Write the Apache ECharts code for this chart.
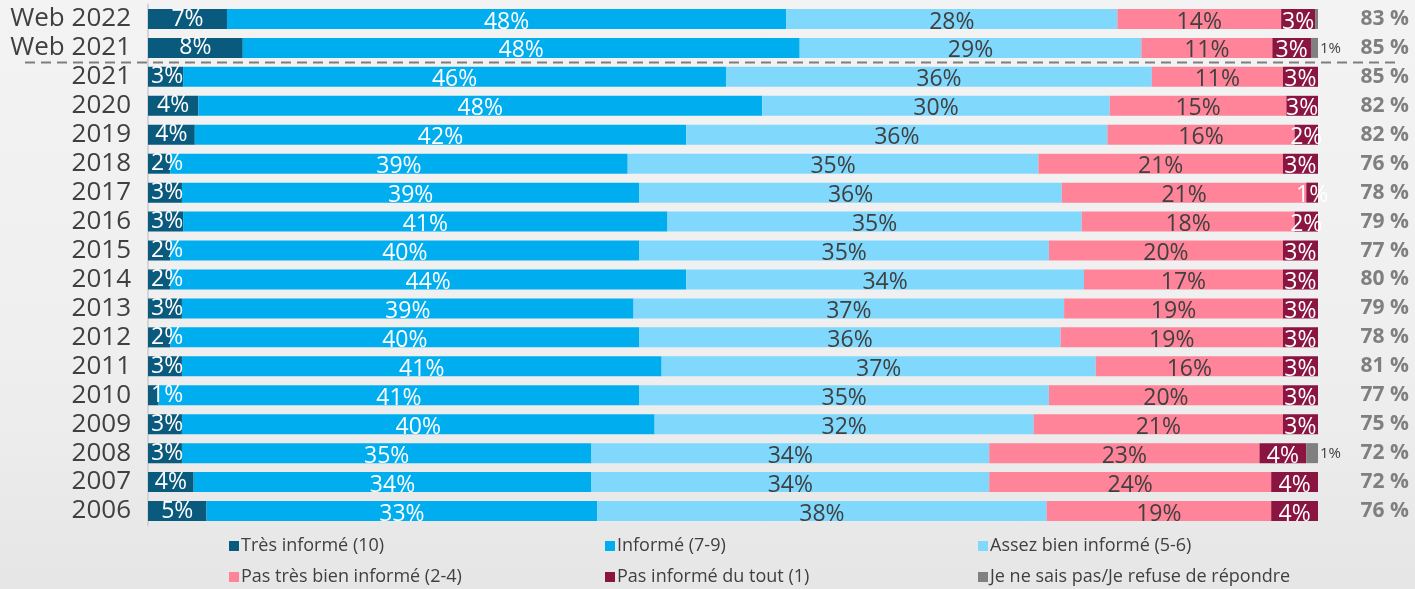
<!DOCTYPE html>
<html>
<head>
<meta charset="utf-8">
<script src="https://cdn.jsdelivr.net/npm/echarts@6/dist/echarts.min.js"></script>
<style>
html,body{margin:0;padding:0;}
#chart{width:1415px;height:589px;background:linear-gradient(180deg,#f3f3f3 0%,#efefef 60%,#e6e6e6 100%);}
</style>
</head>
<body>
<div id="chart"></div>
<script>
const categories = ['Web 2022','Web 2021','2021','2020','2019','2018','2017','2016','2015','2014','2013','2012','2011','2010','2009','2008','2007','2006'];
const tresInforme   = [6.75, 8.1, 3.0, 4.3, 4.0, 1.9, 2.9, 3.0, 1.9, 1.9, 2.9, 1.9, 2.9, 0.9, 2.9, 2.9, 3.9, 5.0];
const informe       = [47.8, 47.6, 46.4, 48.2, 42.0, 39.1, 39.1, 41.4, 40.1, 44.1, 38.6, 40.1, 41.0, 41.1, 40.4, 35.0, 34.0, 33.4];
const assezBien     = [28.3, 29.2, 36.4, 29.7, 36.0, 35.1, 36.1, 35.4, 35.0, 34.0, 36.8, 36.0, 37.1, 35.0, 32.4, 34.0, 34.0, 38.4];
const pasTresBien   = [14.0, 11.2, 11.2, 15.1, 16.0, 20.9, 20.9, 18.2, 20.0, 17.0, 18.7, 19.0, 16.0, 20.0, 21.3, 23.1, 24.1, 19.2];
const pasDuTout     = [2.9, 3.3, 3.0, 2.7, 2.0, 3.0, 1.0, 2.0, 3.0, 3.0, 3.0, 3.0, 3.0, 3.0, 3.0, 4.0, 4.0, 4.0];
const neSaisPas     = [0.25, 0.6, 0, 0, 0, 0, 0, 0, 0, 0, 0, 0, 0, 0, 0, 1.0, 0, 0];
const totals        = [83, 85, 85, 82, 82, 76, 78, 79, 77, 80, 79, 78, 81, 77, 75, 72, 72, 76];
const seriesNames = ['Très informé (10)','Informé (7-9)','Assez bien informé (5-6)','Pas très bien informé (2-4)','Pas informé du tout (1)','Je ne sais pas/Je refuse de répondre'];
const seriesData = [tresInforme, informe, assezBien, pasTresBien, pasDuTout, neSaisPas];
const colors = ['#0a5a7d','#00aeef','#80d8fd','#ff8499','#8a1541','#808080'];
const labelColors = ['#ffffff','#ffffff','#404040','#404040','#ffffff','#404040'];
const FONT = '"Open Sans", "Noto Sans", sans-serif';

const chart = echarts.init(document.getElementById('chart'), null, {renderer:'canvas'});

const series = seriesData.map((d, i) => {
  const s = {
    name: seriesNames[i],
    type: 'bar',
    stack: 'total',
    barWidth: 20,
    data: d,
    itemStyle: {color: colors[i]},
    label: {
      show: true,
      position: i === 5 ? 'right' : 'inside',
      offset: i === 5 ? [-3, 1] : [0, 3],
      color: labelColors[i],
      fontSize: i === 5 ? 15 : 23,
      fontFamily: FONT,
      formatter: p => (p.value >= 0.5 ? Math.round(p.value) + '%' : '')
    },
    emphasis: {disabled: true},
    animation: false
  };
  if (i === 0) {
    // keep narrow labels from spilling past the start of the bar
    s.labelLayout = p => {
      const minX = p.rect.x + 3;
      if (p.labelRect.x < minX) return {dx: minX - p.labelRect.x};
      return {};
    };
  }
  return s;
});

const legendCols = [229, 605, 978];
const legendRows = [537, 568];
const legends = seriesNames.map((n, i) => ({
  data: [n],
  left: legendCols[i % 3],
  top: legendRows[Math.floor(i / 3)],
  itemWidth: 10, itemHeight: 10, itemGap: 0, icon: 'rect',
  padding: 0,
  textStyle: {color: '#404040', fontSize: 18, fontFamily: FONT, padding: [0, 0, 0, -3]},
  selectedMode: false
}));

const option = {
  backgroundColor: 'transparent',
  color: colors,
  animation: false,
  grid: {left: 148, right: 97, top: 4.5, bottom: 63.5, containLabel: false},
  xAxis: {type: 'value', min: 0, max: 100, show: false},
  yAxis: [
    {
      type: 'category', data: categories, inverse: true,
      axisLine: {show: true, lineStyle: {color: '#d4d4d4', width: 2}},
      axisTick: {show: false},
      axisLabel: {interval: 0, color: '#404040', fontSize: 26, fontFamily: FONT, margin: 17}
    },
    {
      type: 'category', data: totals.map(v => v + ' %'), inverse: true, position: 'right',
      axisLine: {show: false}, axisTick: {show: false},
      axisLabel: {interval: 0, color: '#7f7f7f', fontSize: 21, fontWeight: 'bold', fontFamily: FONT, align: 'right', margin: 91}
    }
  ],
  legend: legends,
  series: series
};
chart.setOption(option);

// dashed separator between "Web 2021" and "2021"
const y1 = chart.convertToPixel({yAxisIndex: 0}, categories[1]);
const y2 = chart.convertToPixel({yAxisIndex: 0}, categories[2]);
const ySep = Math.round((y1 + y2) / 2) + 0.5;
chart.setOption({
  graphic: [{
    type: 'line', silent: true, z: 100,
    shape: {x1: 25, y1: ySep, x2: 1398, y2: ySep},
    style: {stroke: '#7f7f7f', lineWidth: 2, lineDash: [10, 6]}
  }]
});
</script>
</body>
</html>
